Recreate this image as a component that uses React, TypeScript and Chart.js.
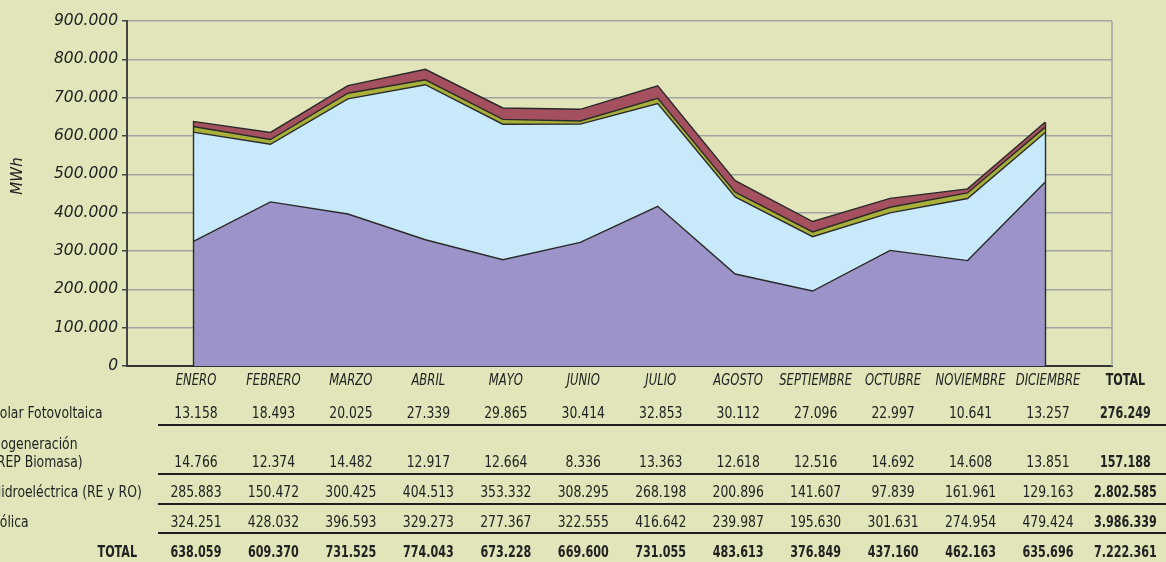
import React, { useEffect, useRef } from "react";
import { Chart, registerables } from "chart.js";

Chart.register(...registerables);

// ---- Data ----
const MONTHS = ["ENERO", "FEBRERO", "MARZO", "ABRIL", "MAYO", "JUNIO", "JULIO", "AGOSTO", "SEPTIEMBRE", "OCTUBRE", "NOVIEMBRE", "DICIEMBRE"];
const SOLAR = [13158, 18493, 20025, 27339, 29865, 30414, 32853, 30112, 27096, 22997, 10641, 13257];
const COGEN = [14766, 12374, 14482, 12917, 12664, 8336, 13363, 12618, 12516, 14692, 14608, 13851];
const HIDRO = [285883, 150472, 300425, 404513, 353332, 308295, 268198, 200896, 141607, 97839, 161961, 129163];
const EOLICA = [324251, 428032, 396593, 329273, 277367, 322555, 416642, 239987, 195630, 301631, 274954, 479424];
const MONTH_TOTALS = [638059, 609370, 731525, 774043, 673228, 669600, 731055, 483613, 376849, 437160, 462163, 635696];
const ROW_TOTALS = [276249, 157188, 2802585, 3986339];
const GRAND_TOTAL = 7222361;
const ROW_LABELS = [["Solar Fotovoltaica"], ["Cogeneración", "(REP Biomasa)"], ["Hidroeléctrica (RE y RO)"], ["Eólica"]];
const TOTAL_LABEL = "TOTAL";
const Y_MIN = 0;
const Y_MAX = 900000;
const Y_STEP = 100000;
const Y_TITLE = "MWh";

const fmt = (n: number) => (n === 0 ? "0" : String(n).replace(/\B(?=(\d{3})+(?!\d))/g, "."));

const BG = "#E1E5B9";
const TXT = "#222222";
const NARROW = '"DejaVu Sans Condensed", "Liberation Sans Narrow", sans-serif';

function drawText(ctx: any, text: string, x: number, y: number, align: string, font: string, sx: number) {
  ctx.save();
  ctx.translate(x, y);
  ctx.scale(sx, 1);
  ctx.font = font;
  ctx.textAlign = align;
  ctx.textBaseline = "middle";
  ctx.fillText(text, 0, 0);
  ctx.restore();
}

const tablePlugin = {
  id: "tablePlugin",
  beforeDatasetsDraw(chart: any) {
    const { ctx, chartArea } = chart;
    ctx.save();
    ctx.strokeStyle = "#A3A3A3";
    ctx.lineWidth = 1.5;
    ctx.beginPath();
    ctx.moveTo(chartArea.right, chartArea.top);
    ctx.lineTo(chartArea.right, chartArea.bottom);
    ctx.stroke();
    ctx.restore();
  },
  afterDatasetsDraw(chart: any) {
    const { ctx } = chart;
    const ys = chart.scales.y;
    const top = chart.getDatasetMeta(3).data;
    const y0 = ys.getPixelForValue(0);
    ctx.save();
    ctx.strokeStyle = "#2a2a2a";
    ctx.lineWidth = 1.4;
    [0, MONTHS.length - 1].forEach((i) => {
      const p = top[i];
      ctx.beginPath();
      ctx.moveTo(Math.round(p.x) + 0.5, p.y);
      ctx.lineTo(Math.round(p.x) + 0.5, y0);
      ctx.stroke();
    });
    ctx.restore();
  },
  afterDraw(chart: any) {
    const { ctx } = chart;
    const xs = chart.scales.x;
    const shift = 3;
    const colX = (i: number) => xs.getPixelForValue(i) + shift;
    const fReg = `16px ${NARROW}`;
    const fBold = `bold 15.5px ${NARROW}`;
    const fIt = `italic 15px ${NARROW}`;
    const sReg = 0.86;
    const sBold = 0.8;
    const sIt = 0.86;
    ctx.save();
    ctx.fillStyle = TXT;

    // y title
    ctx.save();
    ctx.translate(18, 176);
    ctx.rotate(-Math.PI / 2);
    ctx.textAlign = "center";
    ctx.textBaseline = "middle";
    ctx.font = 'italic 15px "DejaVu Sans", sans-serif';
    ctx.fillText(Y_TITLE, 0, 0);
    ctx.restore();

    // header
    MONTHS.forEach((m, i) => drawText(ctx, m, colX(i), 381, "center", fIt, sIt));
    drawText(ctx, TOTAL_LABEL, colX(MONTHS.length), 381, "center", fBold, sBold);

    const rowsY = [414, 463, 493, 523];
    const lineY = [425, 474, 504, 533];
    const series = [SOLAR, COGEN, HIDRO, EOLICA];
    series.forEach((vals, r) => {
      vals.forEach((v, i) => drawText(ctx, fmt(v), colX(i), rowsY[r], "center", fReg, sReg));
      drawText(ctx, fmt(ROW_TOTALS[r]), colX(MONTHS.length), rowsY[r], "center", fBold, sBold);
      const lines = ROW_LABELS[r];
      lines.forEach((ln, k) => {
        const yy = rowsY[r] - (lines.length - 1 - k) * 18;
        drawText(ctx, ln, -8, yy, "left", fReg, sReg);
      });
      ctx.strokeStyle = "#1e1e1e";
      ctx.lineWidth = 2;
      ctx.beginPath();
      ctx.moveTo(158, lineY[r]);
      ctx.lineTo(1166, lineY[r]);
      ctx.stroke();
    });

    // totals row
    drawText(ctx, TOTAL_LABEL, 137, 553, "right", fBold, sBold);
    MONTH_TOTALS.forEach((v, i) => drawText(ctx, fmt(v), colX(i), 553, "center", fBold, sBold));
    drawText(ctx, fmt(GRAND_TOTAL), colX(MONTHS.length), 553, "center", fBold, sBold);
    ctx.restore();
  },
};

export default function App() {
  const ref = useRef<HTMLCanvasElement | null>(null);
  useEffect(() => {
    if (!ref.current) return;
    const toXY = (arr: number[]) => arr.map((v, i) => ({ x: i, y: v }));
    const common = { borderColor: "#2a2a2a", borderWidth: 1.4, pointRadius: 0, tension: 0 };
    const chart = new Chart(ref.current, {
      type: "line",
      data: {
        datasets: [
          { label: "Eólica", data: toXY(EOLICA), backgroundColor: "#9C94C8", fill: "origin", ...common },
          { label: "Hidroeléctrica (RE y RO)", data: toXY(HIDRO), backgroundColor: "#C7E9F9", fill: "-1", ...common },
          { label: "Cogeneración (REP Biomasa)", data: toXY(COGEN), backgroundColor: "#A9B03A", fill: "-1", ...common },
          { label: "Solar Fotovoltaica", data: toXY(SOLAR), backgroundColor: "#A5505F", fill: "-1", ...common },
        ],
      },
      options: {
        responsive: false,
        animation: false,
        devicePixelRatio: 1,
        layout: { padding: { left: 0, top: 21, right: 54, bottom: 196 } },
        plugins: { legend: { display: false }, tooltip: { enabled: false } },
        scales: {
          x: {
            type: "linear",
            min: -0.852,
            max: 11.865,
            ticks: { display: false },
            grid: { display: false, drawTicks: false },
            border: { display: true, color: "#333", width: 2 },
            afterFit: (s: any) => {
              s.height = 0;
            },
          },
          y: {
            stacked: true,
            min: Y_MIN,
            max: Y_MAX,
            ticks: {
              stepSize: Y_STEP,
              callback: (v: any) => fmt(Number(v)),
              color: TXT,
              padding: 4,
              font: { family: '"DejaVu Sans", sans-serif', size: 15.5, style: "italic" },
            },
            grid: {
              color: (c: any) => (c.tick && c.tick.value === 0 ? "rgba(0,0,0,0)" : "#A3A3A3"),
              lineWidth: 1.5,
              tickColor: "#444",
              tickLength: 5,
            },
            border: { display: true, color: "#444", width: 2 },
            afterFit: (s: any) => {
              s.width = 127;
            },
          },
        },
      },
      plugins: [tablePlugin],
    } as any);
    return () => chart.destroy();
  }, []);
  return (
    <div style={{ position: "fixed", left: 0, top: 0, width: 1166, height: 562, background: BG }}>
      <canvas ref={ref} width={1166} height={562} style={{ display: "block", width: 1166, height: 562 }} />
    </div>
  );
}
